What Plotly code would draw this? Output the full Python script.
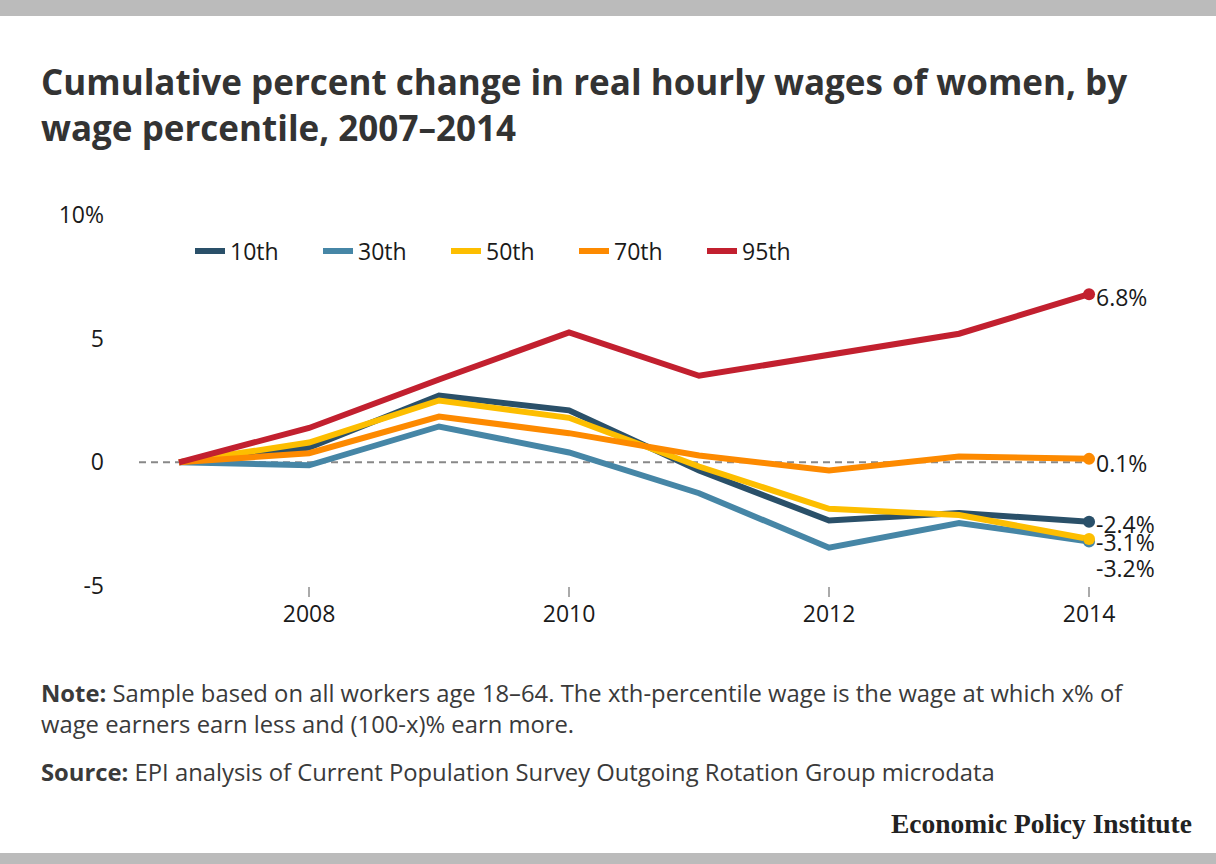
import plotly.graph_objects as go

years = [2007, 2008, 2009, 2010, 2011, 2012, 2013, 2014]
series_names = ["10th", "30th", "50th", "70th", "95th"]
p10 = [0, 0.6, 2.7, 2.1, -0.33, -2.35, -2.05, -2.4]
p30 = [0, -0.12, 1.45, 0.4, -1.25, -3.45, -2.45, -3.2]
p50 = [0, 0.8, 2.5, 1.8, -0.17, -1.88, -2.13, -3.1]
p70 = [0, 0.37, 1.85, 1.18, 0.28, -0.33, 0.24, 0.14]
p95 = [0, 1.39, 3.35, 5.25, 3.5, 4.35, 5.2, 6.8]
series_values = [p10, p30, p50, p70, p95]
end_labels = ["-2.4%", "-3.2%", "-3.1%", "0.1%", "6.8%"]
colors = ["#2a5069", "#4686a6", "#fdbe00", "#fd8a00", "#c2202f"]
label_shift = [2, 27, 3, 4, 3]

title_text = "Cumulative percent change in real hourly wages of women, by<br>wage percentile, 2007–2014"
note_line1 = "<b>Note:</b> Sample based on all workers age 18–64. The xth-percentile wage is the wage at which x% of"
note_line2 = "wage earners earn less and (100-x)% earn more."
source_line = "<b>Source:</b> EPI analysis of Current Population Survey Outgoing Rotation Group microdata"
brand = "Economic Policy Institute"

W, H = 1216, 864
ML, MR, MT, MB = 139, 50, 215, 278
PW, PH = W - ML - MR, H - MT - MB


def px2x(px):
    return (px - ML) / PW


def py2y(py):
    return (H - MB - py) / PH


FONT = "Open Sans"
fig = go.Figure()

for name, vals, col in zip(series_names, series_values, colors):
    fig.add_trace(go.Scatter(
        x=years, y=vals, mode="lines", name=name,
        line=dict(color=col, width=6), hoverinfo="skip"))

for name, vals, col, lab, sh in zip(series_names, series_values, colors, end_labels, label_shift):
    fig.add_trace(go.Scatter(
        x=[years[-1]], y=[vals[-1]], mode="markers", showlegend=False,
        marker=dict(color=col, size=12), hoverinfo="skip"))
    fig.add_annotation(x=years[-1], y=vals[-1], xref="x", yref="y", text=lab,
                       showarrow=False, xanchor="left", yanchor="middle",
                       xshift=5, yshift=-sh,
                       font=dict(family=FONT, size=23, color="#1a1a1a"))

fig.add_shape(type="line", xref="x", yref="y", x0=2006.692, x1=2014, y0=0, y1=0,
              line=dict(color="#888888", width=2, dash="7px,5px"), layer="below")

# top/bottom grey bars
fig.add_shape(type="rect", xref="paper", yref="paper", x0=px2x(0), x1=px2x(W),
              y0=py2y(16), y1=py2y(-5), fillcolor="#bbbbbb", line=dict(width=0))
fig.add_shape(type="rect", xref="paper", yref="paper", x0=px2x(0), x1=px2x(W),
              y0=py2y(870), y1=py2y(853), fillcolor="#bbbbbb", line=dict(width=0))

fig.add_annotation(xref="paper", yref="paper", x=px2x(39), y=py2y(104), text="<b>" + title_text + "</b>",
                   showarrow=False, xanchor="left", yanchor="middle", align="left",
                   font=dict(family=FONT, size=35, color="#333333"))
fig.add_annotation(xref="paper", yref="paper", x=px2x(39), y=py2y(708), text=note_line1 + "<br>" + note_line2,
                   showarrow=False, xanchor="left", yanchor="middle", align="left",
                   font=dict(family=FONT, size=23.8, color="#3a3a3a"))
fig.add_annotation(xref="paper", yref="paper", x=px2x(39), y=py2y(772), text=source_line,
                   showarrow=False, xanchor="left", yanchor="middle", align="left",
                   font=dict(family=FONT, size=23.8, color="#3a3a3a"))
fig.add_annotation(xref="paper", yref="paper", x=px2x(1194), y=py2y(823), text="<b>" + brand + "</b>",
                   showarrow=False, xanchor="right", yanchor="middle",
                   font=dict(family="Liberation Serif", size=27.5, color="#222222"))

fig.update_layout(
    width=W, height=H,
    margin=dict(l=ML, r=MR, t=MT, b=MB),
    paper_bgcolor="white", plot_bgcolor="white",
    font=dict(family=FONT, size=23, color="#1a1a1a"),
    showlegend=True,
    legend=dict(orientation="h", x=px2x(190), y=py2y(251), xanchor="left", yanchor="middle",
                font=dict(family=FONT, size=23, color="#1a1a1a"), bgcolor="rgba(0,0,0,0)",
                entrywidth=83, entrywidthmode="pixels", itemwidth=30),
    xaxis=dict(range=[2006.692, 2014.592], tickvals=[2008, 2010, 2012, 2014],
               showgrid=False, zeroline=False, showline=False,
               ticks="outside", ticklen=10, tickwidth=2, tickcolor="#aaaaaa",
               ticklabelstandoff=-3,
               tickfont=dict(family=FONT, size=23, color="#1a1a1a")),
    yaxis=dict(range=[-5, 10], tickvals=[-5, 0, 5, 10], ticktext=["-5", "0", "5", "10%"],
               showgrid=False, zeroline=False, showline=False, ticks="",
               ticklabelstandoff=34,
               tickfont=dict(family=FONT, size=23, color="#1a1a1a")),
)

fig.write_html("out.html", config={"displayModeBar": False},
               post_script="document.body.style.margin='0px';document.body.style.overflow='hidden';")
